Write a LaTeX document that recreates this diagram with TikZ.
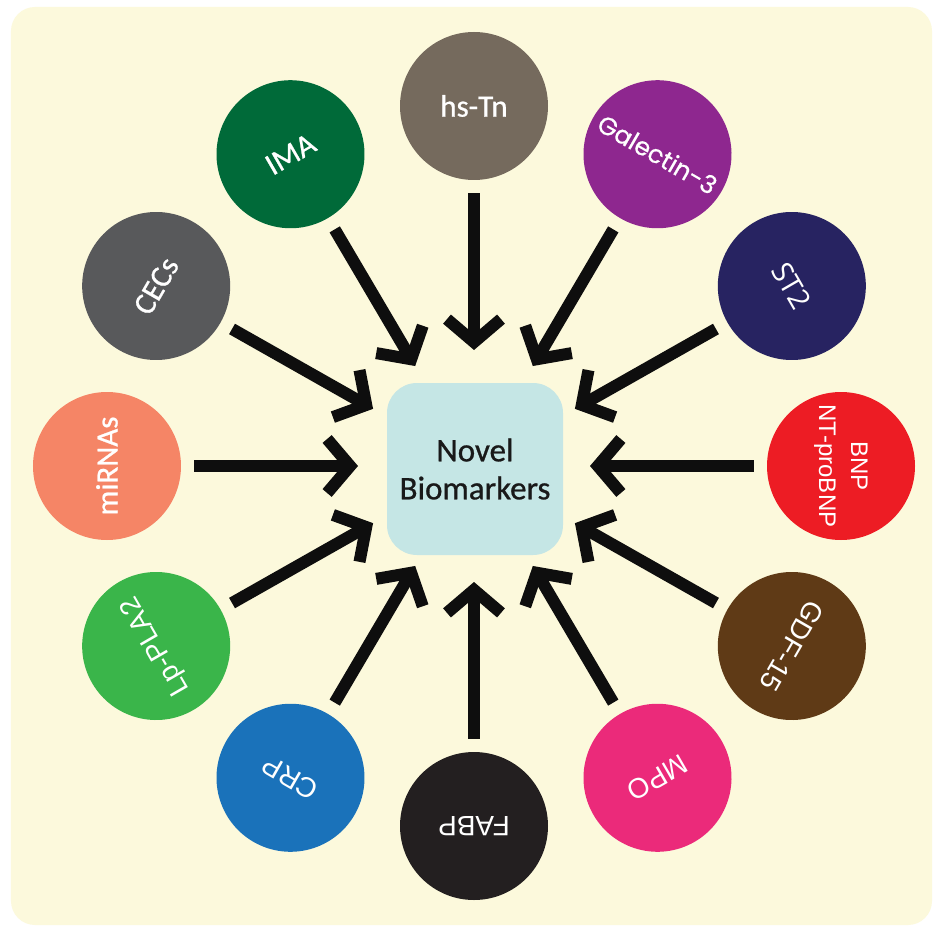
\documentclass[tikz,border=0pt]{standalone}
\usepackage{fontspec}
\setmainfont{Liberation Sans}
\newfontfamily\carl{Carlito}[FakeBold=0.8]
\newfontfamily\popf{Poppins}[FakeBold=0.6]
\newfontfamily\opsf{Open Sans}
\usetikzlibrary{arrows.meta}
\definecolor{bgcream}{HTML}{FCF9DC}
\definecolor{hubfill}{HTML}{C5E6E5}
\definecolor{cTn}{HTML}{756A5D}
\definecolor{cGal}{HTML}{8E278F}
\definecolor{cST}{HTML}{272361}
\definecolor{cBNP}{HTML}{ED1C24}
\definecolor{cGDF}{HTML}{5F3A16}
\definecolor{cMPO}{HTML}{EB2A7A}
\definecolor{cFABP}{HTML}{231F20}
\definecolor{cCRP}{HTML}{1A72BA}
\definecolor{cLp}{HTML}{3AB54A}
\definecolor{cmiR}{HTML}{F58566}
\definecolor{cCEC}{HTML}{58595B}
\definecolor{cIMA}{HTML}{006A39}
\definecolor{arrowblack}{HTML}{0E0E0E}
\begin{document}
\begin{tikzpicture}[x=1pt,y=1pt,
  bubble/.style={circle, minimum size=148pt, inner sep=0pt, text=white, align=center},
  fcal/.style={font=\carl\fontsize{31}{32}\selectfont},
  farial/.style={font=\fontsize{28}{32}\selectfont},
  feed/.style={line width=12pt, draw=arrowblack, -{Straight Barb[length=23pt,width=54pt]},
    shorten <=13pt, shorten >=116pt},
  hubbox/.style={fill=hubfill, rounded corners=30pt, minimum width=176pt, minimum height=172pt,
    inner sep=0pt, align=center, font=\carl\fontsize{33}{38}\selectfont, text=black!90}]
\useasboundingbox (-474,-460) rectangle (459,466);
\fill[white] (-474,-460) rectangle (459,466);
\fill[bgcream, rounded corners=24pt] (-463,459) rectangle (458,-459);

\node[hubbox] (box) at (1,-3) {Novel\\Biomarkers};
\coordinate (hub) at (0,0);

\node[bubble, fill=cTn, fcal, rotate=0] (tn) at (90:367 and 360) {hs-Tn};
\node[bubble, fill=cGal, font=\popf\fontsize{25}{30}\selectfont, rotate=-30] (gal) at (60:367 and 360) {Galectin-3};
\node[bubble, fill=cST, font=\opsf\fontsize{29}{32}\selectfont, rotate=-60] (st) at (30:367 and 360) {ST2};
\node[bubble, fill=cBNP, font=\fontsize{24}{32}\selectfont, rotate=-90] (bnp) at (0:367 and 360) {BNP\\NT-proBNP};
\node[bubble, fill=cGDF, farial, rotate=-120] (gdf) at (-30:367 and 360) {GDF-15};
\node[bubble, fill=cMPO, farial, rotate=-150] (mpo) at (-60:367 and 360) {MPO};
\node[bubble, fill=cFABP, farial, rotate=180] (fabp) at (-90:367 and 360) {FABP};
\node[bubble, fill=cCRP, farial, rotate=150] (crp) at (-120:367 and 360) {CRP};
\node[bubble, fill=cLp, farial, rotate=120] (lp) at (-150:367 and 360) {Lp-PLA2};
\node[bubble, fill=cmiR, fcal, rotate=90] (mir) at (180:367 and 360) {miRNAs};
\node[bubble, fill=cCEC, fcal, rotate=60] (cec) at (150:367 and 360) {CECs};
\node[bubble, fill=cIMA, fcal, rotate=30] (ima) at (120:367 and 360) {IMA};

\draw[feed] (tn) -- (hub);
\draw[feed] (gal) -- (hub);
\draw[feed] (st) -- (hub);
\draw[feed] (bnp) -- (hub);
\draw[feed] (gdf) -- (hub);
\draw[feed] (mpo) -- (hub);
\draw[feed] (fabp) -- (hub);
\draw[feed] (crp) -- (hub);
\draw[feed] (lp) -- (hub);
\draw[feed] (mir) -- (hub);
\draw[feed] (cec) -- (hub);
\draw[feed] (ima) -- (hub);
\end{tikzpicture}
\end{document}
